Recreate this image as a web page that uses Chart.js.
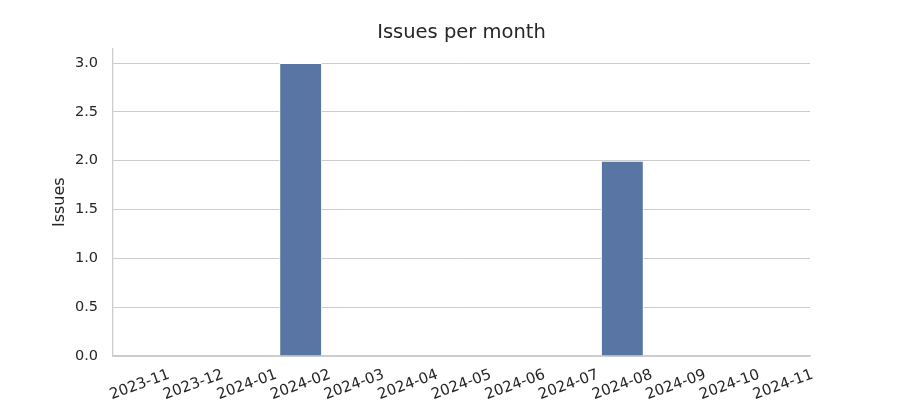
<!DOCTYPE html>
<html>
<head>
<meta charset="utf-8">
<script src="https://cdn.jsdelivr.net/npm/chart.js@4/dist/chart.umd.min.js"></script>
<style>
  html, body { margin: 0; padding: 0; background: #fff; }
  #wrap { width: 900px; height: 400px; }
</style>
</head>
<body>
<div id="wrap"><canvas id="chart"></canvas></div>
<script>
// Issues per month — seaborn-like bar chart
const months = ['2023-11', '2023-12', '2024-01', '2024-02', '2024-03', '2024-04', '2024-05',
  '2024-06', '2024-07', '2024-08', '2024-09', '2024-10', '2024-11'];
const issues = [0, 0, 0, 3, 0, 0, 0, 0, 0, 2, 0, 0, 0];
const yTicks = [0, 0.5, 1.0, 1.5, 2.0, 2.5, 3.0];

const textColor = '#262626';
const lineColor = '#cccccc';
const fontFamily = "'DejaVu Sans', sans-serif";

// matplotlib-style rotated x labels, centred under each bar
const rotatedLabels = {
  id: 'rotatedLabels',
  afterDraw(chart) {
    const { ctx, scales: { x } } = chart;
    ctx.save();
    ctx.fillStyle = textColor;
    ctx.font = '15px ' + fontFamily;
    ctx.textAlign = 'center';
    ctx.textBaseline = 'middle';
    months.forEach((m, i) => {
      const px = x.getPixelForTick(i);
      ctx.save();
      ctx.translate(px, 385);
      ctx.rotate(-20 * Math.PI / 180);
      ctx.fillText(m, 0, 0);
      ctx.restore();
    });
    ctx.restore();
  },
};

new Chart(document.getElementById('chart'), {
  type: 'bar',
  data: {
    labels: months,
    datasets: [{
      label: 'Issues',
      data: issues,
      backgroundColor: '#5975a4',
      borderColor: '#ffffff',
      borderWidth: 1,
      barPercentage: 0.8,
      categoryPercentage: 1.0,
    }],
  },
  options: {
    responsive: true,
    maintainAspectRatio: false,
    animation: false,
    layout: { padding: { left: 50, right: 27, top: 0, bottom: 0 } },
    plugins: {
      legend: { display: false },
      tooltip: { enabled: false },
      title: {
        display: true,
        text: 'Issues per month',
        color: textColor,
        font: { family: fontFamily, size: 19.5, weight: 'normal' },
        padding: { top: 21, bottom: 4 },
      },
    },
    scales: {
      x: {
        grid: { display: false },
        border: { display: true, color: lineColor, width: 1.25 },
        ticks: { display: false },
        afterFit: s => { s.height = 44; },
      },
      y: {
        min: 0,
        max: 3.15,
        afterBuildTicks: s => { s.ticks = yTicks.map(v => ({ value: v })); },
        grid: { color: lineColor, lineWidth: 1, drawTicks: false },
        border: { display: true, color: lineColor, width: 1.25 },
        ticks: {
          color: textColor,
          padding: 15,
          font: { family: fontFamily, size: 14.5 },
          callback: v => Number(v).toFixed(1),
        },
        title: {
          display: true,
          text: 'Issues',
          color: textColor,
          padding: 0,
          font: { family: fontFamily, size: 16 },
        },
        afterFit: s => { s.width = 63; },
      },
      // empty right-hand box so the title centres over the plot area
      yRight: {
        type: 'linear',
        position: 'right',
        grid: { display: false },
        border: { display: false },
        ticks: { display: false },
        afterFit: s => { s.width = 63; },
      },
    },
  },
  plugins: [rotatedLabels],
});
</script>
</body>
</html>
